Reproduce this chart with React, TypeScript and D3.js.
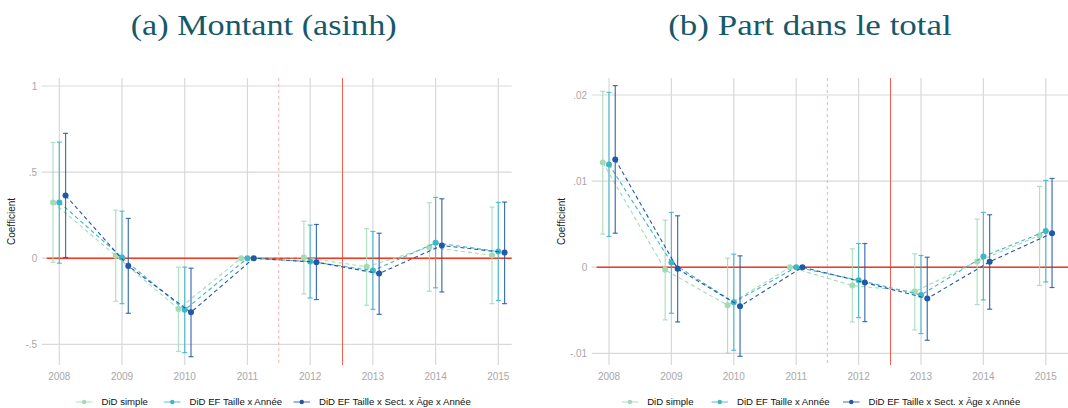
import React from "react";
import * as d3 from "d3";

const years = [2008, 2009, 2010, 2011, 2012, 2013, 2014, 2015];
const seriesNames = ["DiD simple", "DiD EF Taille x Année", "DiD EF Taille x Sect. x Âge x Année"];
const seriesColors = ["#a3dbb7", "#3db6c8", "#2158a8"];
const dodge = [-0.1, 0, 0.1];

// Panel (a) Montant (asinh)
const aSimple = [0.324, 0.014, -0.295, 0, 0.004, -0.05, 0.064, 0.017];
const aSimpleLo = [-0.023, -0.25, -0.541, 0, -0.207, -0.273, -0.192, -0.264];
const aSimpleHi = [0.672, 0.279, -0.052, 0, 0.215, 0.172, 0.322, 0.297];
const aTaille = [0.324, 0.004, -0.3, 0, -0.019, -0.072, 0.089, 0.039];
const aTailleLo = [-0.029, -0.264, -0.548, 0, -0.231, -0.297, -0.172, -0.246];
const aTailleHi = [0.674, 0.273, -0.052, 0, 0.192, 0.155, 0.353, 0.324];
const aFull = [0.364, -0.045, -0.314, 0, -0.023, -0.089, 0.074, 0.033];
const aFullLo = [0.004, -0.32, -0.572, 0, -0.24, -0.326, -0.196, -0.264];
const aFullHi = [0.725, 0.231, -0.058, 0, 0.196, 0.145, 0.345, 0.326];
const aTicks = [-0.5, 0, 0.5, 1];
const aTickLabels = ["-.5", "0", ".5", "1"];

// Panel (b) Part dans le total
const bSimple = [0.01217, -0.00031, -0.00442, 0, -0.00213, -0.00283, 0.00066, 0.00368];
const bSimpleLo = [0.00384, -0.00612, -0.01, 0, -0.00636, -0.00729, -0.00434, -0.00213];
const bSimpleHi = [0.02043, 0.00547, 0.00105, 0, 0.00213, 0.00155, 0.00558, 0.00938];
const bTaille = [0.01194, 0.00054, -0.00407, 0, -0.00151, -0.00322, 0.00124, 0.00419];
const bTailleLo = [0.00357, -0.00535, -0.00965, 0, -0.00585, -0.00771, -0.0038, -0.00171];
const bTailleHi = [0.0203, 0.00636, 0.00151, 0, 0.00275, 0.00136, 0.00636, 0.01008];
const bFull = [0.01252, -0.00019, -0.00453, 0, -0.00178, -0.00364, 0.00062, 0.00395];
const bFullLo = [0.00395, -0.00636, -0.01035, 0, -0.00632, -0.00849, -0.00488, -0.00236];
const bFullHi = [0.02109, 0.00597, 0.00132, 0, 0.00275, 0.00116, 0.00609, 0.01031];
const bTicks = [-0.01, 0, 0.01, 0.02];
const bTickLabels = ["-.01", "0", ".01", ".02"];

const SANS = "Liberation Sans, Arial, Helvetica, sans-serif";
const SERIF = "Liberation Serif, Times New Roman, Times, serif";

type Series = { est: number[]; lo: number[]; hi: number[] };

type PanelProps = {
  title: string;
  titleX: number;
  titleLen: number;
  series: Series[];
  yDomain: [number, number];
  yRange: [number, number];
  xRange: [number, number];
  ticks: number[];
  tickLabels: string[];
  gridLeft: number;
  gridRight: number;
  legendX: number[];
};

function Panel(p: PanelProps) {
  const x = d3.scaleLinear().domain([2008, 2015]).range(p.xRange);
  const y = d3.scaleLinear().domain(p.yDomain).range(p.yRange);
  const top = 78;
  const bottom = 365;
  const tickCol = "#a8a8a8";
  return (
    <g>
      <text x={p.titleX} y={35} textAnchor="middle" style={{ fontFamily: SERIF }}
        fontSize={29} fill="#15596a" textLength={p.titleLen} lengthAdjust="spacingAndGlyphs">{p.title}</text>
      {p.ticks.map((t) => (
        <line key={"h" + t} x1={p.gridLeft} x2={p.gridRight} y1={y(t)} y2={y(t)} stroke="#d9d9d9" strokeWidth={1.2} />
      ))}
      {years.map((yr) => (
        <line key={"v" + yr} x1={x(yr)} x2={x(yr)} y1={top} y2={bottom} stroke="#d9d9d9" strokeWidth={1.2} />
      ))}
      <line x1={x(2011.5)} x2={x(2011.5)} y1={top} y2={bottom} stroke="#f7b3ab" strokeWidth={1} strokeDasharray="3,3" />
      <line x1={Math.round(x(2012.5)) + 0.5} x2={Math.round(x(2012.5)) + 0.5} y1={top} y2={bottom} stroke="#f4604f" strokeWidth={1} />
      <line x1={p.gridLeft + 5} x2={p.gridRight} y1={y(0)} y2={y(0)} stroke="#f9381c" strokeWidth={1.4} />
      {p.ticks.map((t, i) => (
        <text key={"yl" + t} x={p.gridLeft - 4.5} y={y(t)} dy="0.35em" textAnchor="end" style={{ fontFamily: SANS }}
          fontSize={10} fill={tickCol}>{p.tickLabels[i]}</text>
      ))}
      {years.map((yr) => (
        <text key={"xl" + yr} x={x(yr)} y={379.5} textAnchor="middle" style={{ fontFamily: SANS }}
          fontSize={10} fill={tickCol}>{yr}</text>
      ))}
      <text transform={`translate(${p.gridLeft - 26.5},221.5) rotate(-90)`} textAnchor="middle"
        style={{ fontFamily: SANS }} fontSize={10} fill="#222">Coefficient</text>
      {p.series.map((s, si) => {
        const line = d3.line<number>().x((_, i) => x(years[i] + dodge[si])).y((v) => y(v));
        return (
          <g key={"s" + si}>
            {years.map((yr, i) =>
              s.lo[i] === s.hi[i] ? null : (
                <g key={"ci" + i} stroke={seriesColors[si]} strokeOpacity={0.85} strokeWidth={1.2}>
                  <line x1={x(yr + dodge[si])} x2={x(yr + dodge[si])} y1={y(s.lo[i])} y2={y(s.hi[i])} />
                  <line x1={x(yr + dodge[si]) - 2.5} x2={x(yr + dodge[si]) + 2.5} y1={y(s.lo[i])} y2={y(s.lo[i])} />
                  <line x1={x(yr + dodge[si]) - 2.5} x2={x(yr + dodge[si]) + 2.5} y1={y(s.hi[i])} y2={y(s.hi[i])} />
                </g>
              )
            )}
            <path d={line(s.est) || ""} fill="none" stroke={seriesColors[si]} strokeWidth={1.1} strokeDasharray="4,3" />
            {years.map((yr, i) => (
              <circle key={"p" + i} cx={x(yr + dodge[si])} cy={y(s.est[i])} r={3} fill={seriesColors[si]} />
            ))}
          </g>
        );
      })}
      {seriesNames.map((n, si) => (
        <g key={"lg" + si}>
          <line x1={p.legendX[si]} x2={p.legendX[si] + 16.5} y1={402} y2={402} stroke={seriesColors[si]} strokeOpacity={0.55} strokeWidth={1.6} />
          <circle cx={p.legendX[si] + 8.25} cy={402} r={2.2} fill={seriesColors[si]} />
          <text x={p.legendX[si] + 25.5} y={402} dy="0.35em" fill="#111" style={{ fontFamily: SANS }} fontSize={9.6}>{n}</text>
        </g>
      ))}
    </g>
  );
}

export default function App() {
  const aSeries: Series[] = [
    { est: aSimple, lo: aSimpleLo, hi: aSimpleHi },
    { est: aTaille, lo: aTailleLo, hi: aTailleHi },
    { est: aFull, lo: aFullLo, hi: aFullHi },
  ];
  const bSeries: Series[] = [
    { est: bSimple, lo: bSimpleLo, hi: bSimpleHi },
    { est: bTaille, lo: bTailleLo, hi: bTailleHi },
    { est: bFull, lo: bFullLo, hi: bFullHi },
  ];
  return (
    <svg width={1068} height={408} style={{ position: "absolute", left: 0, top: 0, background: "#fff" }}>
      <rect width={1068} height={408} fill="#fff" />
      <Panel title="(a) Montant (asinh)" titleX={263.7} titleLen={266} series={aSeries}
        yDomain={[-0.5, 1]} yRange={[344.3, 86]} xRange={[59.3, 498.3]} ticks={aTicks} tickLabels={aTickLabels}
        gridLeft={41.7} gridRight={511.7} legendX={[76, 164, 293.5]} />
      <Panel title="(b) Part dans le total" titleX={810} titleLen={283.7} series={bSeries}
        yDomain={[-0.01, 0.02]} yRange={[353.3, 95]} xRange={[609, 1045.8]} ticks={bTicks} tickLabels={bTickLabels}
        gridLeft={591.7} gridRight={1070} legendX={[621.7, 711.5, 843]} />
    </svg>
  );
}
